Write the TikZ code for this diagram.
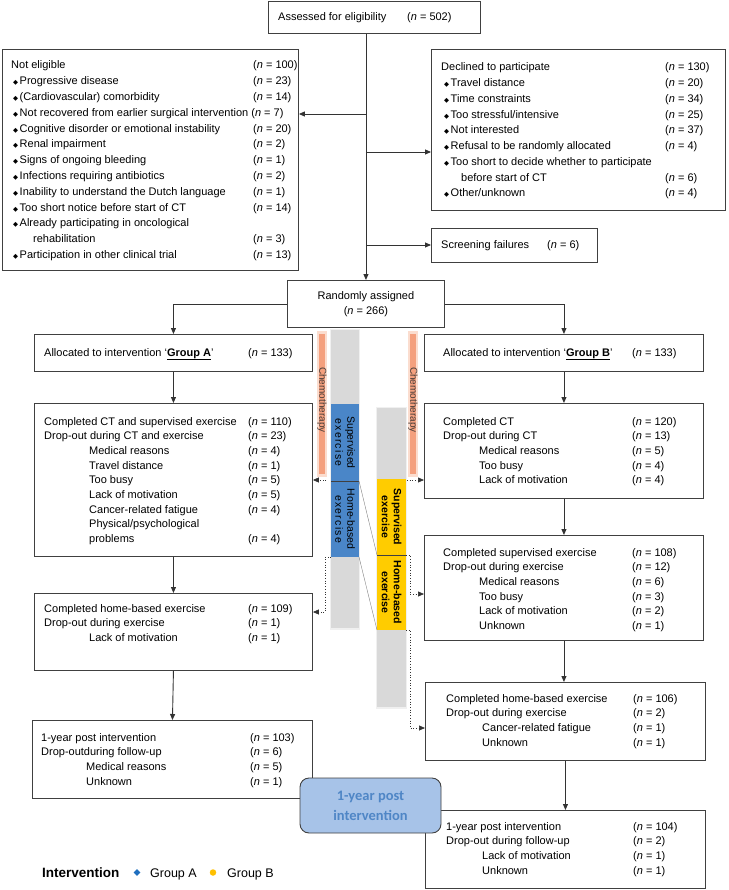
\documentclass[tikz,border=0pt]{standalone}
\usepackage{fontspec}
\setmainfont{Liberation Sans}
\newfontfamily\dejavu{DejaVu Sans}
\newfontfamily\carlito{Carlito}
\usetikzlibrary{arrows.meta,shapes.geometric}
\definecolor{linec}{HTML}{333333}
\definecolor{boxc}{HTML}{404040}
\definecolor{bluebar}{HTML}{4A86C8}
\definecolor{yellowbar}{HTML}{FFCC00}
\definecolor{greybar}{HTML}{D9D9D9}
\definecolor{greyglow}{HTML}{F0F0F0}
\definecolor{chemo}{HTML}{F4A07E}
\definecolor{chemoglow}{HTML}{FBDDCF}
\definecolor{chemotext}{HTML}{4A3E3A}
\definecolor{fupfill}{HTML}{A7C3E8}
\definecolor{fuptext}{HTML}{4F86C6}
\definecolor{legblue}{HTML}{1F6FBF}
\definecolor{legyellow}{HTML}{FFC000}
\newcommand{\nn}[1]{(\textit{n} = #1)}
\newcommand{\bul}{{\dejavu\fontsize{6.5}{6.5}\selectfont ◆}\hspace{1.5pt}}
\newlength{\colw}
\newcommand{\R}[2]{\makebox[\colw][l]{#1} & #2\\}
\tikzset{
  box/.style={draw=boxc, line width=0.9pt, anchor=north west, inner sep=0pt},
  txt/.style={anchor=base west, inner sep=0pt, font=\fontsize{11}{14.7}\selectfont},
  arr/.style={draw=linec, line width=0.9pt, -{Triangle[length=6pt,width=5pt]}},
  dotarr/.style={draw=linec, line width=0.7pt, dotted, -{Triangle[length=6pt,width=5pt]}},
  barlabel/.style={rotate=-90, inner sep=0pt, align=center, text=black},
  chemolabel/.style={rotate=-90, inner sep=0pt, text=chemotext, font=\fontsize{10}{12}\selectfont},
}
\begin{document}
\begin{tikzpicture}[x=1pt,y=-1pt]
\useasboundingbox (0,0) rectangle (728,890);

% ---------- middle column (bars) ----------
\fill[greyglow] (330,329) rectangle (360,629.5);
\fill[greybar] (331,330) rectangle (359,628);
\fill[greyglow] (376,407) rectangle (407,708.5);
\fill[greybar] (377,408) rectangle (406,707);
\fill[chemoglow] (317,331) rectangle (327,477);
\fill[chemo] (319,334) rectangle (325,474);
\fill[chemoglow] (408,331) rectangle (418,477);
\fill[chemo] (410,334) rectangle (416,474);
\node[chemolabel] (chemoA) at (322,400) {Chemotherapy};
\node[chemolabel] (chemoB) at (413,400) {Chemotherapy};

\node[barlabel, fill=bluebar, minimum width=77, minimum height=28,
      font=\fontsize{10.5}{12}\selectfont] (supA) at (345,442.5)
      {Supervised\\\addfontfeatures{LetterSpace=12}exercise};
\node[barlabel, fill=bluebar, minimum width=76, minimum height=28,
      font=\fontsize{10.5}{12}\selectfont] (homeA) at (345,519)
      {Home-based\\\addfontfeatures{LetterSpace=12}exercise};
\node[barlabel, fill=yellowbar, minimum width=76, minimum height=29,
      font=\fontsize{10.5}{12}\selectfont\bfseries] (supB) at (391.5,517)
      {Supervised\\exercise};
\node[barlabel, fill=yellowbar, minimum width=75, minimum height=29,
      font=\fontsize{10.5}{12}\selectfont\bfseries] (homeBbar) at (391.5,592.5)
      {Home-based\\exercise};
\draw[boxc, line width=0.5pt] (331,481) -- (359,481);
\draw[boxc, line width=0.5pt] (377,555) -- (406,555);
\draw[gray, line width=0.4pt] (359,481) -- (377,555);
\draw[gray, line width=0.4pt] (359,557) -- (377,630);

% ---------- boxes ----------
\node[box, minimum width=212, minimum height=32] (assess) at (268,1) {};
\node[box, minimum width=296, minimum height=221] (notelig) at (2,49) {};
\node[box, minimum width=294, minimum height=161] (declined) at (431,49) {};
\node[box, minimum width=166, minimum height=34] (screen) at (431,228) {};
\node[box, minimum width=157, minimum height=47] (rand) at (287,280) {};
\node[box, minimum width=278, minimum height=37] (groupA) at (34,334) {};
\node[box, minimum width=279, minimum height=37] (groupB) at (424,334) {};
\node[box, minimum width=278, minimum height=153] (boxA2) at (34,403) {};
\node[box, minimum width=279, minimum height=95] (boxB2) at (424,403) {};
\node[box, minimum width=279, minimum height=105] (boxB3) at (424,535) {};
\node[box, minimum width=278, minimum height=77] (boxA3) at (34,593) {};
\node[box, minimum width=280, minimum height=78] (boxA4) at (32,720) {};
\node[box, minimum width=280, minimum height=78] (boxB4) at (425,682) {};
\node[box, minimum width=280, minimum height=78] (boxB5) at (425,810) {};

% ---------- texts ----------
\node[txt] (assess-t) at (278,21) {\makebox[129pt][l]{Assessed for eligibility}\nn{502}};
\node[txt, font=\fontsize{11}{15.8}\selectfont] (notelig-t) at (11,69) {\setlength{\colw}{242pt}%
\begin{tabular}[t]{@{}l@{}l@{}}
\R{Not eligible}{\nn{100}}
\R{\hspace{2pt}\bul Progressive disease}{\nn{23}}
\R{\hspace{2pt}\bul (Cardiovascular) comorbidity}{\nn{14}}
\multicolumn{2}{@{}l@{}}{\hspace{2pt}\bul Not recovered from earlier surgical intervention \nn{7}}\\
\R{\hspace{2pt}\bul Cognitive disorder or emotional instability}{\nn{20}}
\R{\hspace{2pt}\bul Renal impairment}{\nn{2}}
\R{\hspace{2pt}\bul Signs of ongoing bleeding}{\nn{1}}
\R{\hspace{2pt}\bul Infections requiring antibiotics}{\nn{2}}
\R{\hspace{2pt}\bul Inability to understand the Dutch language}{\nn{1}}
\R{\hspace{2pt}\bul Too short notice before start of CT}{\nn{14}}
\R{\hspace{2pt}\bul Already participating in oncological}{}
\R{\hspace{22pt}rehabilitation}{\nn{3}}
\R{\hspace{2pt}\bul Participation in other clinical trial}{\nn{13}}
\end{tabular}};
\node[txt, font=\fontsize{11}{15.75}\selectfont] (declined-t) at (441,71) {\setlength{\colw}{224pt}%
\begin{tabular}[t]{@{}l@{}l@{}}
\R{Declined to participate}{\nn{130}}
\R{\hspace{3pt}\bul Travel distance}{\nn{20}}
\R{\hspace{3pt}\bul Time constraints}{\nn{34}}
\R{\hspace{3pt}\bul Too stressful/intensive}{\nn{25}}
\R{\hspace{3pt}\bul Not interested}{\nn{37}}
\R{\hspace{3pt}\bul Refusal to be randomly allocated}{\nn{4}}
\R{\hspace{3pt}\bul Too short to decide whether to participate}{}
\R{\hspace{20pt}before start of CT}{\nn{6}}
\R{\hspace{3pt}\bul Other/unknown}{\nn{4}}
\end{tabular}};
\node[txt] (screen-t) at (441,249) {\makebox[106pt][l]{Screening failures}\nn{6}};
\node[inner sep=0pt, align=center, font=\fontsize{11}{15}\selectfont] (rand-t) at (rand.center) {Randomly assigned\\\nn{266}};
\node[txt] (groupA-t) at (44,356) {\makebox[204pt][l]{Allocated to intervention ‘\underline{\textbf{Group A}}’}\nn{133}};
\node[txt] (groupB-t) at (443,356) {\makebox[189pt][l]{Allocated to intervention ‘\underline{\textbf{Group B}}’}\nn{133}};

\node[txt] (boxA2-t) at (44,425) {\setlength{\colw}{204pt}%
\begin{tabular}[t]{@{}l@{}l@{}}
\R{Completed CT and supervised exercise}{\nn{110}}
\R{Drop-out during CT and exercise}{\nn{23}}
\R{\hspace{45pt}Medical reasons}{\nn{4}}
\R{\hspace{45pt}Travel distance}{\nn{1}}
\R{\hspace{45pt}Too busy}{\nn{5}}
\R{\hspace{45pt}Lack of motivation}{\nn{5}}
\R{\hspace{45pt}Cancer-related fatigue}{\nn{4}}
\R{\hspace{45pt}Physical/psychological}{}
\R{\hspace{45pt}problems}{\nn{4}}
\end{tabular}};
\node[txt] (boxB2-t) at (443,425) {\setlength{\colw}{189pt}%
\begin{tabular}[t]{@{}l@{}l@{}}
\R{Completed CT}{\nn{120}}
\R{Drop-out during CT}{\nn{13}}
\R{\hspace{36pt}Medical reasons}{\nn{5}}
\R{\hspace{36pt}Too busy}{\nn{4}}
\R{\hspace{36pt}Lack of motivation}{\nn{4}}
\end{tabular}};
\node[txt] (boxB3-t) at (443,556) {\setlength{\colw}{189pt}%
\begin{tabular}[t]{@{}l@{}l@{}}
\R{Completed supervised exercise}{\nn{108}}
\R{Drop-out during exercise}{\nn{12}}
\R{\hspace{36pt}Medical reasons}{\nn{6}}
\R{\hspace{36pt}Too busy}{\nn{3}}
\R{\hspace{36pt}Lack of motivation}{\nn{2}}
\R{\hspace{36pt}Unknown}{\nn{1}}
\end{tabular}};
\node[txt] (boxA3-t) at (44,612) {\setlength{\colw}{204pt}%
\begin{tabular}[t]{@{}l@{}l@{}}
\R{Completed home-based exercise}{\nn{109}}
\R{Drop-out during exercise}{\nn{1}}
\R{\hspace{45pt}Lack of motivation}{\nn{1}}
\end{tabular}};
\node[txt] (boxA4-t) at (41,741) {\setlength{\colw}{209pt}%
\begin{tabular}[t]{@{}l@{}l@{}}
\R{1-year post intervention}{\nn{103}}
\R{Drop-outduring follow-up}{\nn{6}}
\R{\hspace{45pt}Medical reasons}{\nn{5}}
\R{\hspace{45pt}Unknown}{\nn{1}}
\end{tabular}};
\node[txt] (boxB4-t) at (446,702) {\setlength{\colw}{187pt}%
\begin{tabular}[t]{@{}l@{}l@{}}
\R{Completed home-based exercise}{\nn{106}}
\R{Drop-out during exercise}{\nn{2}}
\R{\hspace{36pt}Cancer-related fatigue}{\nn{1}}
\R{\hspace{36pt}Unknown}{\nn{1}}
\end{tabular}};
\node[txt] (boxB5-t) at (446,830) {\setlength{\colw}{187pt}%
\begin{tabular}[t]{@{}l@{}l@{}}
\R{1-year post intervention}{\nn{104}}
\R{Drop-out during follow-up}{\nn{2}}
\R{\hspace{36pt}Lack of motivation}{\nn{1}}
\R{\hspace{36pt}Unknown}{\nn{1}}
\end{tabular}};

% ---------- connectors ----------
\coordinate (j1) at (rand.north |- 0,114);
\coordinate (j2) at (rand.north |- 0,152);
\coordinate (j3) at (rand.north |- 0,245);
\draw[arr] (rand.north |- assess.south) -- (rand.north);
\draw[arr] (j1) -- (notelig.east |- j1);
\draw[arr] (j2) -- (declined.west |- j2);
\draw[arr] (j3) -- (screen.west |- j3);
\draw[arr] (rand.west) -- (groupA.north |- rand.west) -- (groupA.north);
\draw[arr] (rand.east) -- (groupB.north |- rand.east) -- (groupB.north);
\draw[arr] (groupA.south) -- (boxA2.north);
\draw[arr] (boxA2.south) -- (boxA3.north);
\draw[arr] (boxA3.south) -- (boxA4.north);
\draw[arr] (groupB.south) -- (boxB2.north);
\draw[arr] (boxB2.south) -- (boxB3.north);
\draw[arr] (boxB3.south) -- (boxB3.south |- boxB4.north);
\draw[arr] (boxB4.south) -- (boxB5.north);

% dotted connectors from the timeline
\coordinate (dA1) at (326,480);
\coordinate (dB1) at (407,480);
\coordinate (dA2) at (331,557);
\coordinate (dA2k) at (325,557);
\coordinate (dA2m) at (325,612);
\coordinate (dB2) at (406,555);
\coordinate (dB2k) at (410,555);
\coordinate (dB2m) at (410,594);
\coordinate (dB3) at (406,630);
\coordinate (dB3k) at (410,630);
\coordinate (dB3m) at (410,728);
\draw[dotarr] (dA1) -- (boxA2.east |- dA1);
\draw[dotarr] (dB1) -- (boxB2.west |- dB1);
\draw[dotarr] (dA2) -- (dA2k) -- (dA2m) -- (boxA3.east |- dA2m);
\draw[dotarr] (dB2) -- (dB2k) -- (dB2m) -- (boxB3.west |- dB2m);
\draw[dotarr] (dB3) -- (dB3k) -- (dB3m) -- (boxB4.west |- dB3m);

% ---------- 1-year post intervention label ----------
\node[draw=boxc, line width=0.9pt, fill=fupfill, rounded corners=9pt, minimum width=141, minimum height=55,
      inner sep=0pt, align=center, text=fuptext, font=\carlito\bfseries\fontsize{14.5}{20}\selectfont]
      (fup) at (370.5,805.5) {1-year post\\intervention};

% ---------- legend ----------
\node[anchor=base west, inner sep=0pt, font=\fontsize{13.5}{16}\selectfont\bfseries] (legtitle) at (42,877) {Intervention};
\node[diamond, fill=legblue, minimum size=7pt, inner sep=0pt] (legA) at (137,872.5) {};
\node[anchor=base west, inner sep=0pt, font=\fontsize{12.5}{15}\selectfont] (legAt) at (150,877) {Group A};
\node[circle, fill=legyellow, minimum size=6.5pt, inner sep=0pt] (legB) at (213,872.5) {};
\node[anchor=base west, inner sep=0pt, font=\fontsize{12.5}{15}\selectfont] (legBt) at (227,877) {Group B};
\end{tikzpicture}
\end{document}
